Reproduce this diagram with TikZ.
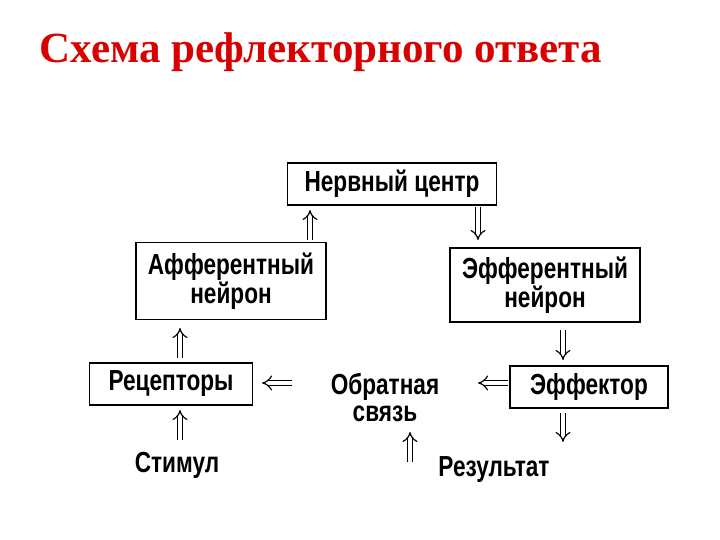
\documentclass[tikz,border=0pt]{standalone}
\usepackage{fontspec}
\setmainfont{Liberation Serif}
\newfontfamily\boxfont[FakeStretch=0.78]{Liberation Sans}
\usetikzlibrary{arrows.meta}
\begin{document}
\begin{tikzpicture}[x=1pt,y=-1pt,
  bx/.style={draw,line width=1.8pt,inner sep=3pt,font=\boxfont\bfseries\fontsize{29}{27}\selectfont,align=center},
  tx/.style={font=\boxfont\bfseries\fontsize{29}{27}\selectfont,align=center},
  dbl/.style={double,double distance=4pt,line width=1.2pt,-{Implies[length=6pt]}}]
\useasboundingbox (0,0) rectangle (720,540);
\node[anchor=west,text=red!85!black,font=\bfseries\fontsize{43}{43}\selectfont] (title) at (36,52) {Схема рефлекторного ответа};
\node[bx,minimum width=209,minimum height=42] (nc) at (392,184) {Нервный центр};
\node[bx,minimum width=190,minimum height=77] (aff) at (231,281) {Афферентный\\нейрон};
\node[bx,minimum width=190,minimum height=74] (eff) at (545,285) {Эфферентный\\нейрон};
\node[bx,minimum width=163,minimum height=42] (rec) at (171,384) {Рецепторы};
\node[tx] (fb) at (385,398) {Обратная\\связь};
\node[bx,minimum width=158,minimum height=42] (ef) at (589,387) {Эффектор};
\node[tx] (st) at (177,465) {Стимул};
\node[tx] (res) at (494,470) {Результат};
\coordinate (a1) at (310,240); \coordinate (a2) at (310,210);
\coordinate (b1) at (478,207); \coordinate (b2) at (478,240);
\coordinate (c1) at (180,358); \coordinate (c2) at (180,328);
\coordinate (d1) at (563,330); \coordinate (d2) at (563,360);
\coordinate (e1) at (180,440); \coordinate (e2) at (180,410);
\coordinate (f1) at (292,383); \coordinate (f2) at (262,383);
\coordinate (g1) at (508,383); \coordinate (g2) at (478,383);
\coordinate (h1) at (410,462); \coordinate (h2) at (410,432);
\coordinate (i1) at (563,413); \coordinate (i2) at (563,442);
\foreach \s/\t in {a1/a2,b1/b2,c1/c2,d1/d2,e1/e2,f1/f2,g1/g2,h1/h2,i1/i2}
  \draw[dbl] (\s) -- (\t);
\end{tikzpicture}
\end{document}
